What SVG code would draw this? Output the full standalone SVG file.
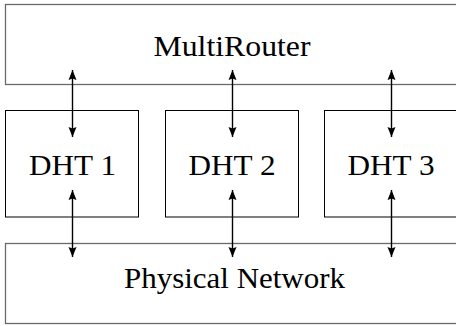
<svg xmlns="http://www.w3.org/2000/svg" width="456" height="326" viewBox="0 0 456 326">
<defs>
<style>
.box{fill:#fff;stroke:#000;stroke-width:1}
.outer{fill:#fff;stroke:#6a6a6a;stroke-width:1.3}
.lbl{font-family:"Liberation Serif","DejaVu Serif",serif;font-size:29px;fill:#000;text-anchor:middle}
.conn{stroke:#000;stroke-width:1.4;fill:none;marker-start:url(#ah);marker-end:url(#ah)}
</style>
<marker id="ah" markerUnits="userSpaceOnUse" viewBox="0 0 10 9" refX="10" refY="4.5" markerWidth="10" markerHeight="9" orient="auto-start-reverse">
<path d="M0,0.5 L10,4.5 L0,8.5 L1.5,4.5 Z" fill="#000"/>
</marker>
</defs>
<rect width="456" height="326" fill="#fff"/>
<g id="multirouter">
<rect class="outer" x="5.5" y="4.5" width="460" height="80"/>
<text class="lbl" x="232" y="56" textLength="157" lengthAdjust="spacingAndGlyphs">MultiRouter</text>
</g>
<g id="dht1">
<rect class="box" x="5.5" y="110.5" width="133" height="106.5"/>
<text class="lbl" x="72.5" y="175" textLength="87" lengthAdjust="spacingAndGlyphs">DHT 1</text>
</g>
<g id="dht2">
<rect class="box" x="165.5" y="110.5" width="133" height="106.5"/>
<text class="lbl" x="232" y="175" textLength="87" lengthAdjust="spacingAndGlyphs">DHT 2</text>
</g>
<g id="dht3">
<rect class="box" x="324.5" y="110.5" width="140" height="106.5"/>
<text class="lbl" x="391" y="175" textLength="87" lengthAdjust="spacingAndGlyphs">DHT 3</text>
</g>
<g id="physical">
<rect class="outer" x="5.5" y="243.5" width="460" height="80"/>
<text class="lbl" x="234.5" y="288" textLength="221" lengthAdjust="spacingAndGlyphs">Physical Network</text>
</g>
<g id="connectors">
<line class="conn" x1="72.5" y1="70" x2="72.5" y2="137"/>
<line class="conn" x1="232.5" y1="70" x2="232.5" y2="137"/>
<line class="conn" x1="391.5" y1="70" x2="391.5" y2="137"/>
<line class="conn" x1="72.5" y1="190" x2="72.5" y2="257"/>
<line class="conn" x1="232.5" y1="190" x2="232.5" y2="257"/>
<line class="conn" x1="391.5" y1="190" x2="391.5" y2="257"/>
</g>
</svg>
